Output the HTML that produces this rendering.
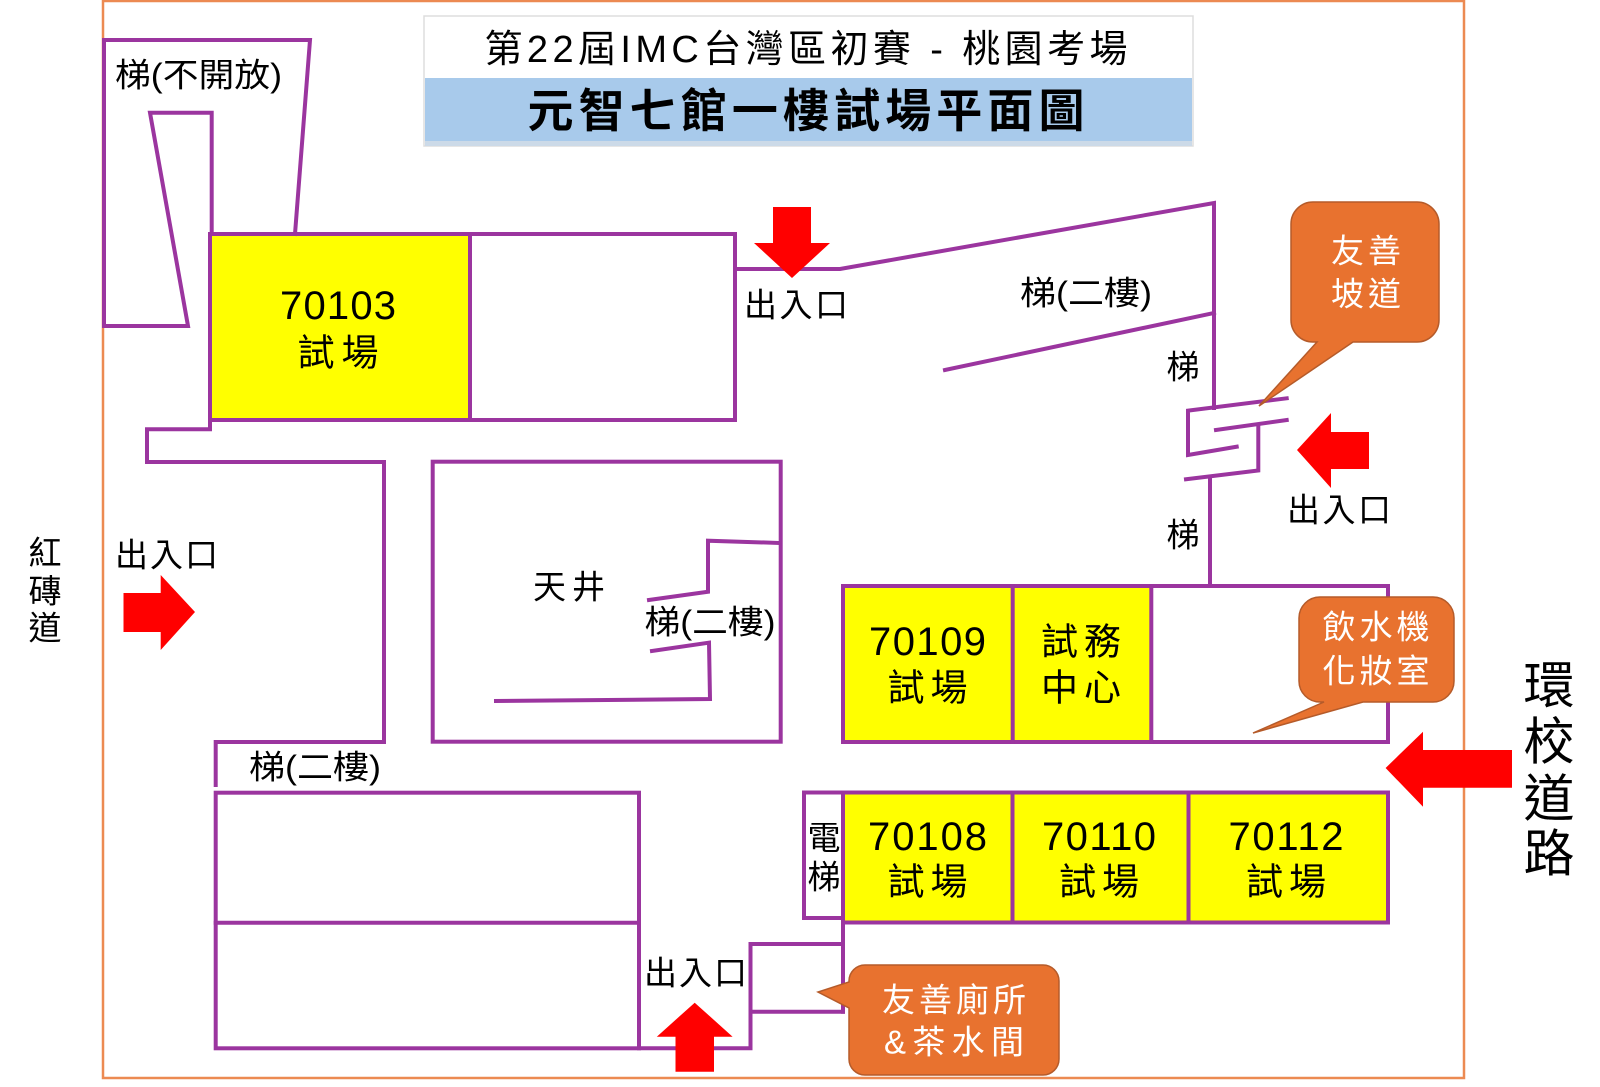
<!DOCTYPE html>
<html>
<head>
<meta charset="utf-8">
<style>
  html,body{margin:0;padding:0;background:#fff;}
  svg{display:block;}
  text{font-family:"Liberation Sans","Noto Sans CJK TC",sans-serif;fill:#000;}
  .w{fill:#fff;}
</style>
</head>
<body>
<svg width="1600" height="1087" viewBox="0 0 1600 1087" xmlns="http://www.w3.org/2000/svg">
  <rect x="0" y="0" width="1600" height="1087" fill="#fff"/>

  <!-- orange outer border -->
  <rect x="103" y="1" width="1361" height="1077" fill="none" stroke="#EC8A52" stroke-width="2.5"/>

  <!-- title -->
  <rect x="424" y="16" width="769" height="130" fill="#fff" stroke="#DDDDDD" stroke-width="1.5"/>
  <rect x="425" y="78" width="767" height="63" fill="#A8CAEB"/>
  <rect x="425" y="141" width="767" height="5" fill="#CCDAE8"/>
  <text x="806" y="50" font-size="38" text-anchor="middle" dominant-baseline="central" textLength="643" lengthAdjust="spacing">第22屆IMC台灣區初賽 - 桃園考場</text>
  <text x="806" y="111" font-size="46" font-weight="700" text-anchor="middle" dominant-baseline="central" textLength="557" lengthAdjust="spacing">元智七館一樓試場平面圖</text>

  <!-- yellow fills -->
  <rect x="210" y="234" width="260" height="186" fill="#FFFF00"/>
  <rect x="843" y="586" width="308" height="156" fill="#FFFF00"/>
  <rect x="843" y="792.5" width="545" height="130" fill="#FFFF00"/>

  <!-- purple walls -->
  <g fill="none" stroke="#9B359F" stroke-width="4" stroke-linejoin="miter" stroke-linecap="square">
    <polyline points="295,234 310,40 104,40 104,326 188,326 150,112.7 211.7,112.7 211.7,234"/>
    <rect x="210" y="234" width="525" height="186"/>
    <line x1="470" y1="234" x2="470" y2="420"/>
    <polyline points="210,420 210,429.3 147,429.3 147,462 384,462 384,742 215.7,742 215.7,785"/>
    <rect x="432.7" y="461.7" width="348" height="280"/>
    <polyline points="780,543 708,540.7 708,591.7 649,600"/>
    <polyline points="652,651 709,642.7 710,699 496,701"/>
    <polyline points="735,269 840,269 1214,203 1214,408"/>
    <line x1="945" y1="370" x2="1214" y2="313"/>
    <polyline points="1286.7,398.3 1188,410.7 1188,455 1236.7,446.7"/>
    <line x1="1216" y1="430" x2="1286.7" y2="420"/>
    <polyline points="1258.3,426.5 1258.3,470.5 1186,479.3"/>
    <line x1="1210" y1="478" x2="1210" y2="586"/>
    <rect x="843" y="586" width="545" height="156"/>
    <line x1="1012.7" y1="586" x2="1012.7" y2="742"/>
    <line x1="1151.3" y1="586" x2="1151.3" y2="742"/>
    <rect x="804" y="792.5" width="39" height="125.5"/>
    <rect x="843" y="792.5" width="545" height="130"/>
    <line x1="1012.5" y1="792.5" x2="1012.5" y2="922.5"/>
    <line x1="1188.5" y1="792.5" x2="1188.5" y2="922.5"/>
    <polyline points="639,1048.3 750.5,1048.3 750.5,944 843,944"/>
    <line x1="750.5" y1="1011.7" x2="843" y2="1011.7"/>
    <line x1="843" y1="918" x2="843" y2="1011.7"/>
    <rect x="215.7" y="792.7" width="423.3" height="255.6"/>
    <line x1="215.7" y1="922.7" x2="639" y2="922.7"/>
  </g>

  <!-- room labels -->
  <g font-size="40" text-anchor="middle" dominant-baseline="central">
    <text x="338" y="306" textLength="116" lengthAdjust="spacing">70103</text>
    <text x="927.5" y="642" textLength="117" lengthAdjust="spacing">70109</text>
    <text x="927.5" y="837" textLength="119" lengthAdjust="spacing">70108</text>
    <text x="1099" y="837" textLength="114" lengthAdjust="spacing">70110</text>
    <text x="1286" y="837" textLength="115" lengthAdjust="spacing">70112</text>
  </g>
  <g font-size="37" text-anchor="middle" dominant-baseline="central">
    <text x="338" y="353" textLength="81" lengthAdjust="spacing">試場</text>
    <text x="927.5" y="688" textLength="80" lengthAdjust="spacing">試場</text>
    <text x="1081" y="642" textLength="80" lengthAdjust="spacing">試務</text>
    <text x="1081" y="688" textLength="80" lengthAdjust="spacing">中心</text>
    <text x="927.5" y="882" textLength="80" lengthAdjust="spacing">試場</text>
    <text x="1099" y="882" textLength="80" lengthAdjust="spacing">試場</text>
    <text x="1286" y="882" textLength="80" lengthAdjust="spacing">試場</text>
  </g>

  <!-- other labels -->
  <g font-size="33" text-anchor="middle" dominant-baseline="central">
    <text x="198.5" y="75" textLength="167" lengthAdjust="spacingAndGlyphs">梯(不開放)</text>
    <text x="1086" y="293" textLength="132" lengthAdjust="spacingAndGlyphs">梯(二樓)</text>
    <text x="710" y="622" textLength="131" lengthAdjust="spacingAndGlyphs">梯(二樓)</text>
    <text x="315" y="767" textLength="132" lengthAdjust="spacingAndGlyphs">梯(二樓)</text>
    <text x="1183" y="367">梯</text>
    <text x="1183" y="535">梯</text>
    <text x="796" y="305" textLength="104" lengthAdjust="spacing">出入口</text>
    <text x="1339" y="510" textLength="104" lengthAdjust="spacing">出入口</text>
    <text x="166.5" y="555" textLength="103" lengthAdjust="spacing">出入口</text>
    <text x="695.5" y="973" textLength="103" lengthAdjust="spacing">出入口</text>
    <text x="569" y="587" textLength="72" lengthAdjust="spacing">天井</text>
    <text x="45" y="553">紅</text>
    <text x="45" y="591">磚</text>
    <text x="45" y="628">道</text>
    <text x="824" y="838">電</text>
    <text x="824" y="877">梯</text>
  </g>
  <g font-size="51" text-anchor="middle" dominant-baseline="central">
    <text x="1549" y="686">環</text>
    <text x="1549" y="742">校</text>
    <text x="1549" y="799">道</text>
    <text x="1549" y="854">路</text>
  </g>

  <!-- callouts -->
  <g fill="#E8722F" stroke="#B55B2A" stroke-width="1.5">
    <path d="M1313,202 H1417 A22,22 0 0 1 1439,224 V320 A22,22 0 0 1 1417,342 H1353 L1259,406 L1317,342 H1313 A22,22 0 0 1 1291,320 V224 A22,22 0 0 1 1313,202 Z"/>
    <path d="M1320,597 H1433 A21,21 0 0 1 1454,618 V681 A21,21 0 0 1 1433,702 H1363 L1253,733 L1324,702 H1320 A21,21 0 0 1 1299,681 V618 A21,21 0 0 1 1320,597 Z"/>
    <path d="M865,965 H1043 A16,16 0 0 1 1059,981 V1059 A16,16 0 0 1 1043,1075 H865 A16,16 0 0 1 849,1059 V1008 L818,992 L849,982 V981 A16,16 0 0 1 865,965 Z"/>
  </g>
  <g font-size="33" text-anchor="middle" dominant-baseline="central">
    <text class="w" x="1366" y="251" textLength="70" lengthAdjust="spacing">友善</text>
    <text class="w" x="1366" y="294" textLength="70" lengthAdjust="spacing">坡道</text>
    <text class="w" x="1376" y="627" textLength="107" lengthAdjust="spacing">飲水機</text>
    <text class="w" x="1376" y="671" textLength="107" lengthAdjust="spacing">化妝室</text>
    <text class="w" x="954" y="1000" textLength="144" lengthAdjust="spacing">友善廁所</text>
    <text class="w" x="954" y="1042" textLength="140" lengthAdjust="spacing">&amp;茶水間</text>
  </g>

  <!-- red arrows -->
  <g fill="#FF0000">
    <polygon points="773,207 811,207 811,243 830,243 792,278 754,243 773,243"/>
    <polygon points="1369,432 1369,469 1331,469 1331,488 1297,450 1331,413 1331,432"/>
    <polygon points="123.5,593 160.7,593 160.7,575 195,612 160.7,650 160.7,632 123.5,632"/>
    <polygon points="675.5,1071.7 714,1071.7 714,1036.7 732.6,1036.7 694.7,1002.7 656.8,1036.7 675.5,1036.7"/>
    <polygon points="1512,750 1512,787.7 1423,787.7 1423,806.7 1385.6,768 1423,731.7 1423,750"/>
  </g>
</svg>
</body>
</html>
